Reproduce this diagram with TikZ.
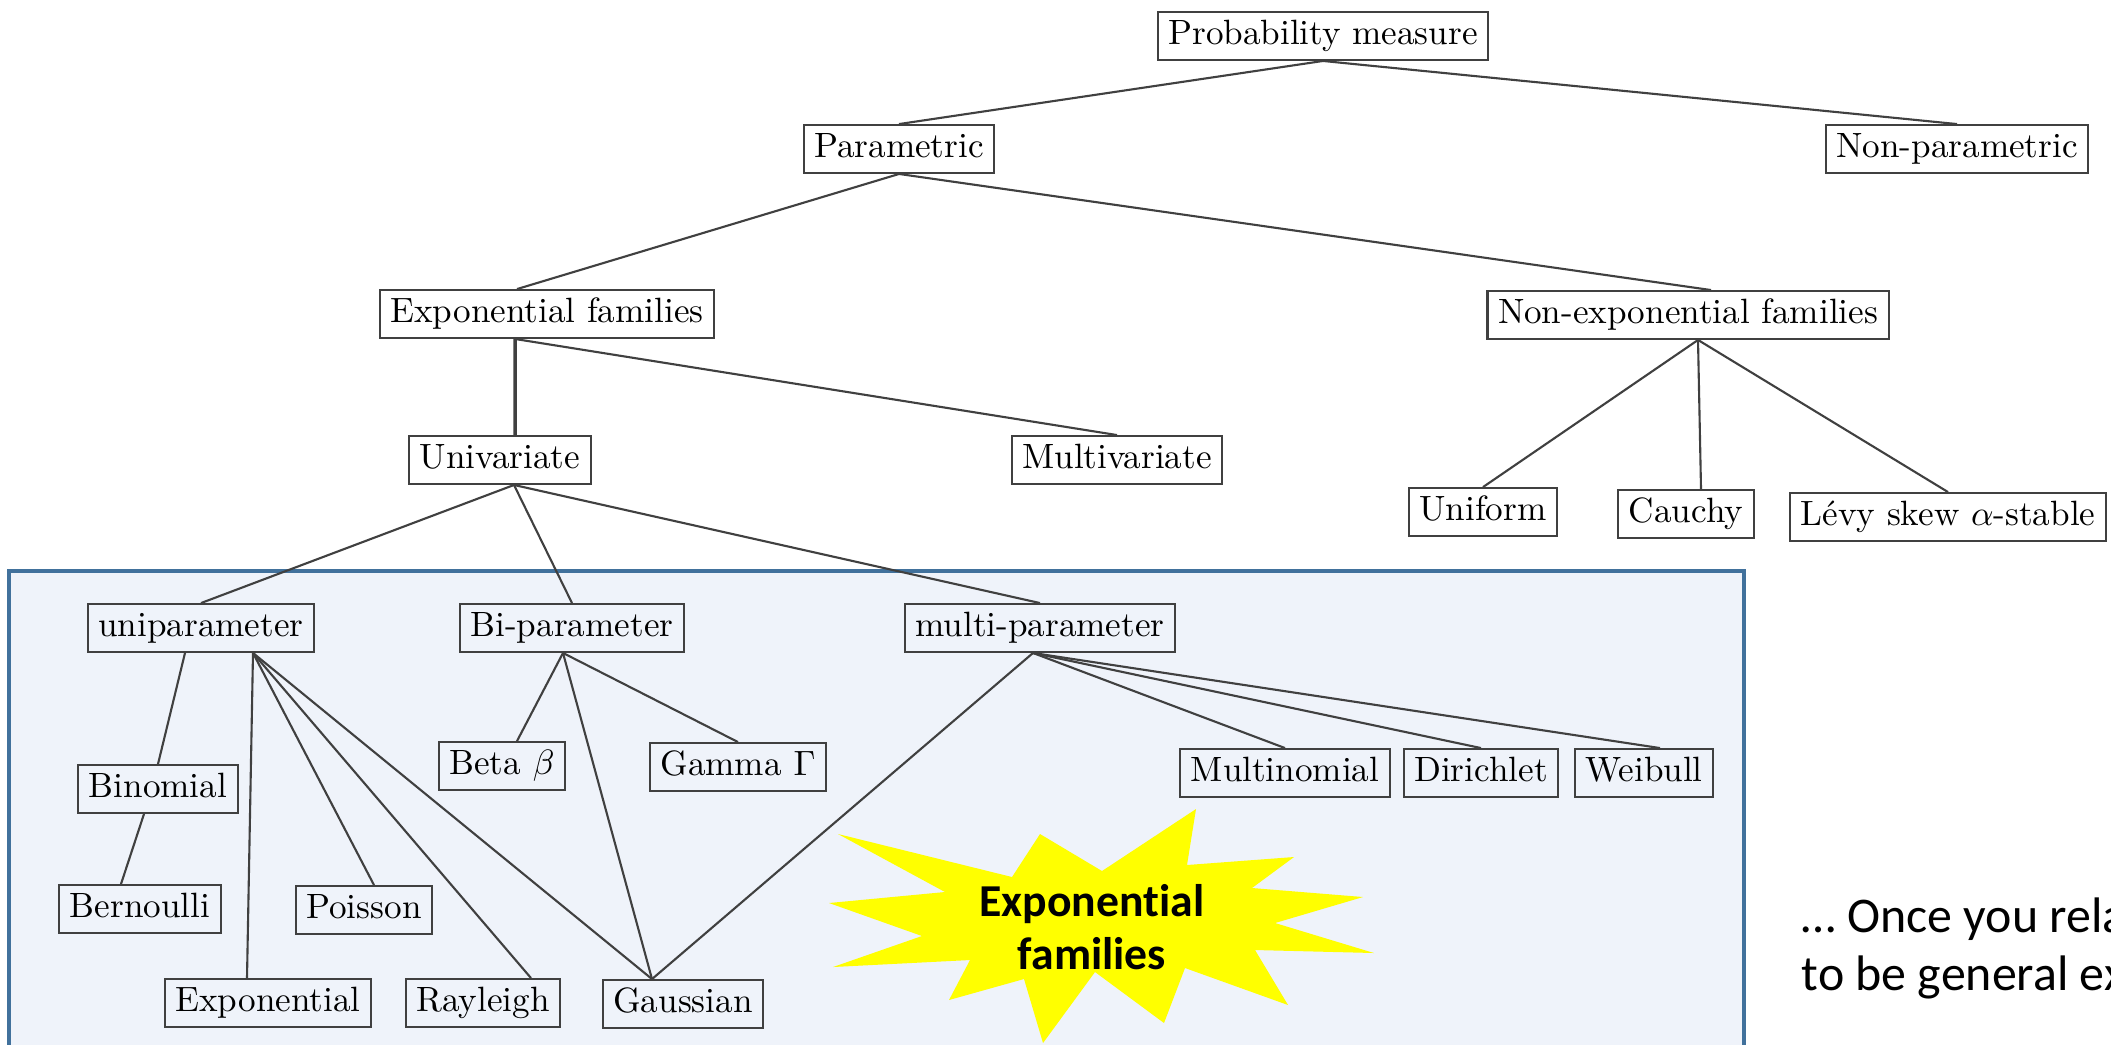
\documentclass[tikz,border=0pt]{standalone}
\usepackage{fontspec}
\newfontfamily\calibri[Ligatures=NoCommon]{Carlito}
\usepackage{tikz}
\usetikzlibrary{positioning}
\definecolor{regionfill}{RGB}{239,243,250}
\definecolor{regionedge}{RGB}{65,113,156}
\definecolor{burstyellow}{RGB}{255,255,0}

\begin{document}
\begin{tikzpicture}[
    dist/.style={draw=black!75, line width=0.6pt, inner xsep=3pt, inner ysep=2.3pt, text height=7pt, text depth=2pt},
    edge/.style={draw=black!75, line width=0.6pt},
    bursttext/.style={font=\calibri\bfseries\fontsize{13}{15}\selectfont, align=center, inner sep=0pt},
    note/.style={font=\calibri\fontsize{14.2}{16.5}\selectfont, align=left, inner sep=0pt}
]
    \useasboundingbox (0,0) rectangle (21.11,-10.44);
    \clip (0,0) rectangle (21.11,-10.44);
    \filldraw[fill=regionfill, draw=regionedge, line width=1pt] (0.09,-5.71) rectangle (17.44,-10.60);

    \node[dist] (prob) at (13.23,-0.36) {Probability measure};
    \node[dist] (param) at (8.99,-1.49) {Parametric};
    \node[dist] (nonparam) at (19.57,-1.49) {Non-parametric};
    \draw[edge] (prob.south) -- (param.north);
    \draw[edge] (prob.south) -- (nonparam.north);

    \node[dist] (expfam) at (5.47,-3.14) {Exponential families};
    \node[dist] (nonexp) at (16.88,-3.15) {Non-exponential families};
    \draw[edge] (param.south) -- ([xshift=-3mm]expfam.north);
    \draw[edge] (param.south) -- ([xshift=2.3mm]nonexp.north);

    \node[dist] (univ) at (5.00,-4.60) {Univariate};
    \node[dist] (multiv) at (11.17,-4.60) {Multivariate};
    \draw[edge, line width=1pt] ([xshift=-3.2mm]expfam.south) -- ([xshift=1.5mm]univ.north);
    \draw[edge] ([xshift=-3.2mm]expfam.south) -- (multiv.north);

    \node[dist] (uniform) at (14.83,-5.12) {Uniform};
    \node[dist] (cauchy) at (16.86,-5.14) {Cauchy};
    \node[dist] (levy) at (19.48,-5.17) {L\'evy skew $\alpha$-stable};
    \draw[edge] ([xshift=1mm]nonexp.south) -- (uniform.north);
    \draw[edge] ([xshift=1mm]nonexp.south) -- ([xshift=1.5mm]cauchy.north);
    \draw[edge] ([xshift=1mm]nonexp.south) -- (levy.north);

    \node[dist] (unipar) at (2.01,-6.28) {uniparameter};
    \node[dist] (bipar) at (5.72,-6.28) {Bi-parameter};
    \node[dist] (multipar) at (10.40,-6.28) {multi-parameter};
    \draw[edge] ([xshift=1.4mm]univ.south) -- (unipar.north);
    \draw[edge] ([xshift=1.4mm]univ.south) -- (bipar.north);
    \draw[edge] ([xshift=1.4mm]univ.south) -- (multipar.north);

    % uniparameter family
    \node[dist] (binomial) at (1.58,-7.89) {Binomial};
    \node[dist] (bernoulli) at (1.40,-9.09) {Bernoulli};
    \node[dist] (poisson) at (3.64,-9.10) {Poisson};
    \node[dist] (expo) at (2.68,-10.03) {Exponential};
    \node[dist] (rayleigh) at (4.83,-10.03) {Rayleigh};
    \node[dist] (gauss) at (6.83,-10.04) {Gaussian};
    \draw[edge] ([xshift=-1.6mm]unipar.south) -- (binomial.north);
    \draw[edge] ([xshift=-1.4mm]binomial.south) -- ([xshift=-1.9mm]bernoulli.north);
    \draw[edge] ([xshift=5.2mm]unipar.south) -- ([xshift=-2.1mm]expo.north);
    \draw[edge] ([xshift=5.2mm]unipar.south) -- ([xshift=1mm]poisson.north);
    \draw[edge] ([xshift=5.2mm]unipar.south) -- ([xshift=4.8mm]rayleigh.north);
    \draw[edge] ([xshift=5.2mm]unipar.south) -- ([xshift=-3.1mm]gauss.north);

    % bi-parameter family
    \node[dist] (beta) at (5.02,-7.66) {Beta $\beta$};
    \node[dist] (gamma) at (7.38,-7.67) {Gamma $\Gamma$};
    \draw[edge] ([xshift=-0.9mm]bipar.south) -- ([xshift=1.5mm]beta.north);
    \draw[edge] ([xshift=-0.9mm]bipar.south) -- (gamma.north);
    \draw[edge] ([xshift=-0.9mm]bipar.south) -- ([xshift=-3.1mm]gauss.north);

    % multi-parameter family
    \node[dist] (multinom) at (12.85,-7.73) {Multinomial};
    \node[dist] (dirichlet) at (14.81,-7.73) {Dirichlet};
    \node[dist] (weibull) at (16.44,-7.73) {Weibull};
    \draw[edge] ([xshift=-0.7mm]multipar.south) -- ([xshift=-3.1mm]gauss.north);
    \draw[edge] ([xshift=-0.7mm]multipar.south) -- (multinom.north);
    \draw[edge] ([xshift=-0.7mm]multipar.south) -- (dirichlet.north);
    \draw[edge] ([xshift=-0.7mm]multipar.south) -- ([xshift=1.6mm]weibull.north);

    % burst
    \fill[burstyellow] (11.96,-8.09) -- (11.87,-8.65) -- (12.94,-8.57) -- (12.52,-8.88)
        -- (13.63,-8.97) -- (12.75,-9.23) -- (13.74,-9.53) -- (12.55,-9.50)
        -- (12.88,-10.05) -- (11.85,-9.68) -- (11.64,-10.23) -- (10.95,-9.72)
        -- (10.43,-10.43) -- (10.24,-9.79) -- (9.49,-10.00) -- (9.70,-9.60)
        -- (8.33,-9.67) -- (9.22,-9.36) -- (8.29,-9.03) -- (9.45,-8.92)
        -- (8.38,-8.34) -- (10.12,-8.77) -- (10.40,-8.34) -- (11.02,-8.71) -- cycle;
    \node[bursttext] (burstlbl) at (10.92,-9.27) {Exponential\\families};

    \node[note, anchor=north west] (remark) at (18.01,-8.97) {… Once you rela\\to be general ex};
\end{tikzpicture}
\end{document}
